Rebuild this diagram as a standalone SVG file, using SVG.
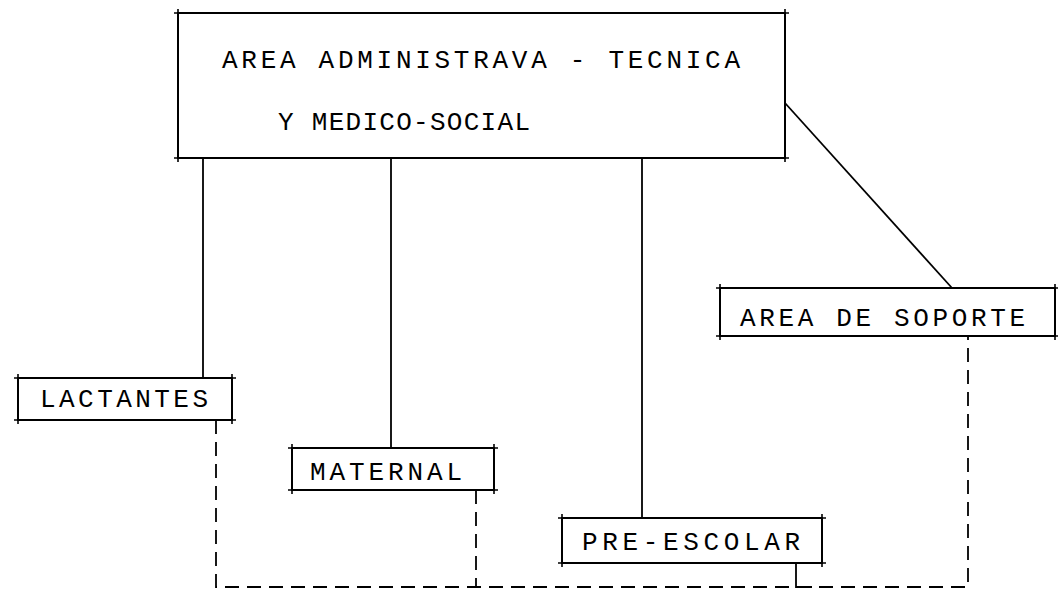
<svg xmlns="http://www.w3.org/2000/svg" width="1058" height="598" viewBox="0 0 1058 598">
<style>
.box{fill:#fff;stroke:#000;stroke-width:2}
.t{font-family:"Liberation Mono","DejaVu Sans Mono",monospace;font-size:26px;fill:#000}
.c{fill:none;stroke:#000;stroke-width:1.8}
.d{fill:none;stroke:#000;stroke-width:1.8;stroke-dasharray:14 8}
.tk{fill:none;stroke:#000;stroke-width:1.6}
</style>
<defs>
<path id="tick" class="tk" d="M-4,0H4M0,-4V4"/>
</defs>
<rect width="1058" height="598" fill="#fff"/>
<g id="connectors">
<line class="c" x1="203" y1="158" x2="203" y2="378"/>
<line class="c" x1="391" y1="158" x2="391" y2="448"/>
<line class="c" x1="642" y1="158" x2="642" y2="518"/>
<line class="c" x1="785" y1="103" x2="952" y2="288"/>
<polyline class="d" points="216,420 216,587 968,587 968,336"/>
<line class="d" x1="476" y1="490" x2="476" y2="587"/>
<polyline class="c" points="796,563 796,587 812,587"/>
</g>
<g id="top">
<rect class="box" x="178" y="13" width="607" height="145"/>
<use href="#tick" x="178" y="13"/><use href="#tick" x="785" y="13"/><use href="#tick" x="178" y="158"/><use href="#tick" x="785" y="158"/>
<text class="t" x="222" y="68" textLength="518" lengthAdjust="spacing">AREA ADMINISTRAVA - TECNICA</text>
<text class="t" x="278" y="130" textLength="252" lengthAdjust="spacing">Y MEDICO-SOCIAL</text>
</g>
<g id="lactantes">
<rect class="box" x="18" y="378" width="214" height="42"/>
<use href="#tick" x="18" y="378"/><use href="#tick" x="232" y="378"/><use href="#tick" x="18" y="420"/><use href="#tick" x="232" y="420"/>
<text class="t" x="40" y="407" textLength="168" lengthAdjust="spacing">LACTANTES</text>
</g>
<g id="maternal">
<rect class="box" x="292" y="448" width="202" height="42"/>
<use href="#tick" x="292" y="448"/><use href="#tick" x="494" y="448"/><use href="#tick" x="292" y="490"/><use href="#tick" x="494" y="490"/>
<text class="t" x="310" y="480" textLength="152" lengthAdjust="spacing">MATERNAL</text>
</g>
<g id="preescolar">
<rect class="box" x="562" y="518" width="260" height="45"/>
<use href="#tick" x="562" y="518"/><use href="#tick" x="822" y="518"/><use href="#tick" x="562" y="563"/><use href="#tick" x="822" y="563"/>
<text class="t" x="582" y="550" textLength="218" lengthAdjust="spacing">PRE-ESCOLAR</text>
</g>
<g id="soporte">
<rect class="box" x="720" y="288" width="335" height="48"/>
<use href="#tick" x="720" y="288"/><use href="#tick" x="1055" y="288"/><use href="#tick" x="720" y="336"/><use href="#tick" x="1055" y="336"/>
<text class="t" x="740" y="326" textLength="285" lengthAdjust="spacing">AREA DE SOPORTE</text>
</g>
</svg>
